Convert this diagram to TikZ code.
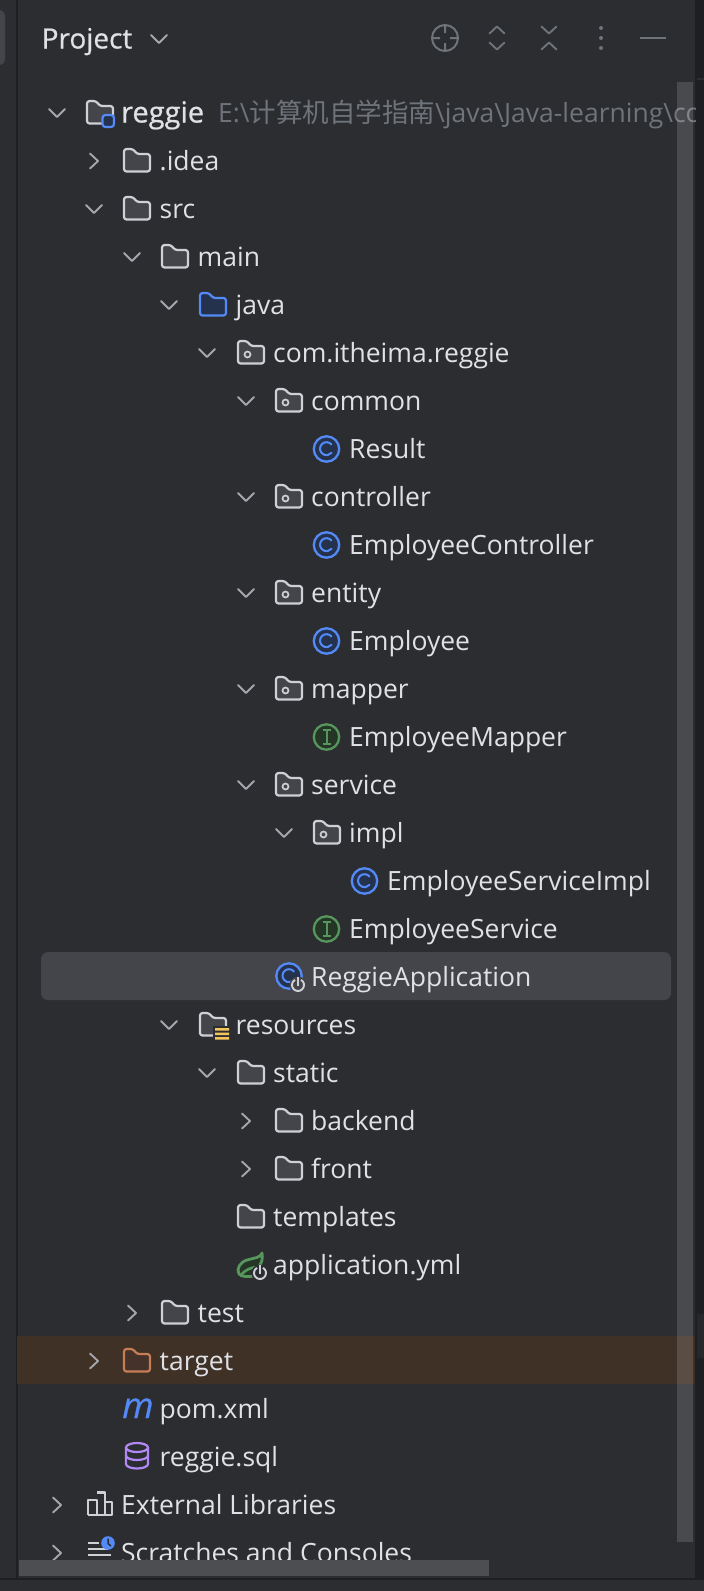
\documentclass[tikz,border=0pt]{standalone}
\usepackage{fontspec}
\setmainfont{Open Sans}
\newfontfamily\cjkf{Noto Sans CJK SC}
\definecolor{bgc}{HTML}{2B2D30}
\definecolor{linec}{HTML}{1E1F22}
\definecolor{txt}{HTML}{DFE1E5}
\definecolor{muted}{HTML}{6F737A}
\definecolor{sel}{HTML}{43454A}
\definecolor{igcol}{HTML}{3F3126}
\definecolor{icog}{HTML}{CED0D6}
\definecolor{foldfill}{HTML}{43454A}
\definecolor{blue}{HTML}{548AF7}
\definecolor{bluef}{HTML}{25324D}
\definecolor{green}{HTML}{57965C}
\definecolor{greenf}{HTML}{253627}
\definecolor{orangec}{HTML}{C77D55}
\definecolor{orangef}{HTML}{45322B}
\definecolor{purp}{HTML}{B189F5}
\definecolor{yel}{HTML}{F2C55C}
\definecolor{sb}{HTML}{4D4E52}
\tikzset{
 lab/.style={anchor=base west,inner sep=0pt,text=txt,font=\fontsize{26.5}{30}\selectfont,yshift=-0.5pt},
 chev/.style={draw=icog!75!bgc,line width=1.9pt,line cap=round,line join=round},
 ic/.style={line width=2.2pt,line join=round},
}
\newcommand{\fold}[4]{\draw[ic,draw=#3,fill=#4,rounded corners=2.5pt] (#1+1,#2+10.5)--(#1+1,#2-12)--(#1+10,#2-12)--(#1+14,#2-7)--(#1+27,#2-7)--(#1+27,#2+10.5)--cycle;}
\newcommand{\pkgdot}[2]{\draw[draw=icog,line width=1.7pt] (#1+10.5,#2+1.5) circle (3pt);}
\newcommand{\chd}[2]{\draw[chev] (#1-8,#2-4)--(#1,#2+4)--(#1+8,#2-4);}
\newcommand{\chr}[2]{\draw[chev] (#1-4,#2-7.5)--(#1+4,#2)--(#1-4,#2+7.5);}
\newcommand{\clsic}[2]{\draw[draw=blue,fill=bluef,line width=2.3pt] (#1+14.5,#2) circle (12.7pt);
 \draw[draw=blue,line width=2pt,line cap=round] (#1+19.5,#2-4.5) arc (40:320:6.5pt);}
\newcommand{\ific}[2]{\draw[draw=green,fill=greenf,line width=2.3pt] (#1+14.5,#2) circle (12.7pt);
 \draw[draw=green,line width=2pt] (#1+10.5,#2-7)--(#1+18.5,#2-7) (#1+10.5,#2+7)--(#1+18.5,#2+7) (#1+14.5,#2-7)--(#1+14.5,#2+7);}
\newcommand{\powic}[3]{\fill[#3] (#1,#2) circle (8.5pt);
 \draw[draw=icog,line width=1.9pt] (#1+3,#2-5.2) arc (60:-240:6pt);
 \draw[draw=icog,line width=1.9pt] (#1,#2-8)--(#1,#2+0.5);}
\begin{document}
\begin{tikzpicture}[x=1pt,y=-1pt]
\useasboundingbox (0,0) rectangle (704,1591);
\fill[bgc] (0,0) rectangle (704,1591);
\fill[linec] (695,0) rectangle (704,1579);
\fill[bgc] (697,78) rectangle (704,80);
\fill[bgc!60!linec] (697,1314) rectangle (704,1358);
\fill[sel,rounded corners=6pt] (-8,10) rectangle (5,65);
\draw[linec,line width=2pt] (16.5,0)--(16.5,1579);
\draw[linec,line width=2pt] (0,1578.5)--(704,1578.5);
\fill[sel,rounded corners=7pt] (41,952) rectangle (671,1000);
\fill[igcol] (17,1336) rectangle (695,1384);
% header
\node[lab,font=\fontsize{28}{30}\selectfont\addfontfeature{FakeBold=0.5}] (hdr) at (41.5,48) {Project};
\draw[chev] (151,35)--(159,43)--(167,35);
\draw[draw=muted,line width=2pt] (445,38) circle (13pt) (445,25)--(445,33) (445,43)--(445,51) (432,38)--(440,38) (450,38)--(458,38);
\draw[chev,draw=muted] (489.5,33.5)--(497,26.5)--(504.5,33.5) (489.5,42.5)--(497,49.5)--(504.5,42.5);
\draw[chev,draw=muted] (541.5,26.5)--(549,33.5)--(556.5,26.5) (541.5,49.5)--(549,42.5)--(556.5,49.5);
\fill[muted] (601,28) circle (2pt) (601,38) circle (2pt) (601,48) circle (2pt);
\draw[draw=muted,line width=2pt] (640,38)--(666,38);
% reggie
\chd{57}{113}
\fold{86}{113}{icog}{foldfill}
\draw[draw=blue,fill=bluef,line width=2.2pt,rounded corners=3pt] (102.5,115) rectangle (114,127);
\node[lab,font=\fontsize{29}{30}\selectfont\addfontfeature{FakeBold=0.7}] (n0) at (121,122) {reggie};
\begin{scope}
\clip (200,90) rectangle (695,135);
\node[lab,text=muted] (n0p) at (218,122) {E:\textbackslash{\cjkf 计算机自学指南}\textbackslash java\textbackslash Java-learning\textbackslash co};
\end{scope}
% folders
\chr{94}{161}\fold{123}{161}{icog}{foldfill}\node[lab] (n1) at (159.5,170) {.idea};
\chd{94}{209}\fold{123}{209}{icog}{foldfill}\node[lab] (n2) at (159.5,218) {src};
\chd{132}{257}\fold{161}{257}{icog}{foldfill}\node[lab] (n3) at (197.5,266) {main};
\chd{169}{305}\fold{199}{305}{blue}{bluef}\node[lab] (n4) at (235.5,314) {java};
\chd{207}{353}\fold{237}{353}{icog}{foldfill}\pkgdot{237}{353}\node[lab] (n5) at (273,362) {com.itheima.reggie};
\chd{246}{401}\fold{275}{401}{icog}{foldfill}\pkgdot{275}{401}\node[lab] (n6) at (311,410) {common};
\clsic{312}{449}\node[lab] (n7) at (349,458) {Result};
\chd{246}{497}\fold{275}{497}{icog}{foldfill}\pkgdot{275}{497}\node[lab] (n8) at (311,506) {controller};
\clsic{312}{545}\node[lab] (n9) at (349,554) {EmployeeController};
\chd{246}{593}\fold{275}{593}{icog}{foldfill}\pkgdot{275}{593}\node[lab] (n10) at (311,602) {entity};
\clsic{312}{641}\node[lab] (n11) at (349,650) {Employee};
\chd{246}{689}\fold{275}{689}{icog}{foldfill}\pkgdot{275}{689}\node[lab] (n12) at (311,698) {mapper};
\ific{312}{737}\node[lab] (n13) at (349,746) {EmployeeMapper};
\chd{246}{785}\fold{275}{785}{icog}{foldfill}\pkgdot{275}{785}\node[lab] (n14) at (311,794) {service};
\chd{284}{833}\fold{313}{833}{icog}{foldfill}\pkgdot{313}{833}\node[lab] (n15) at (349,842) {impl};
\clsic{350}{881}\node[lab] (n16) at (387,890) {EmployeeServiceImpl};
\ific{312}{929}\node[lab] (n17) at (349,938) {EmployeeService};
\clsic{274.5}{976}\powic{298}{985}{sel}\node[lab] (n18) at (311,986) {ReggieApplication};
\chd{169}{1025}\fold{199}{1025}{icog}{foldfill}
\fill[bgc] (213,1026) rectangle (231,1041);
\fill[yel] (215,1028) rectangle (229,1030.5) (215,1032.5) rectangle (229,1035) (215,1037) rectangle (229,1039.5);
\node[lab] (n19) at (235.5,1034) {resources};
\chd{207}{1073}\fold{237}{1073}{icog}{foldfill}\node[lab] (n20) at (273,1082) {static};
\chr{246}{1121}\fold{275}{1121}{icog}{foldfill}\node[lab] (n21) at (311,1130) {backend};
\chr{246}{1169}\fold{275}{1169}{icog}{foldfill}\node[lab] (n22) at (311,1178) {front};
\fold{237}{1217}{icog}{foldfill}\node[lab] (n23) at (273,1226) {templates};
% spring leaf
\draw[draw=green,fill=greenf,line width=2.8pt,line join=round] (262,1253) .. controls (261,1258) and (253,1258) .. (247,1260) .. controls (240,1262) and (236,1269) .. (239,1274) .. controls (241,1277) and (249,1277) .. (254,1276) -- (258,1268) .. controls (262,1263) and (263,1258) .. cycle;
\draw[draw=green,line width=2.6pt] (241,1275) .. controls (245,1270) and (250,1268) .. (256,1267);
\powic{260}{1273}{bgc}
\node[lab] (n24) at (273,1274) {application.yml};
\chr{132}{1313}\fold{161}{1313}{icog}{foldfill}\node[lab] (n25) at (197.5,1322) {test};
\chr{94}{1361}\fold{123}{1361}{orangec}{orangef}\node[lab] (n26) at (159.5,1370) {target};
\node[anchor=base west,inner sep=0pt,text=blue,font=\fontsize{36}{36}\selectfont\itshape\addfontfeature{FakeBold=0.6}] (mic) at (122,1418) {m};
\node[lab] (n27) at (159.5,1418) {pom.xml};
\draw[draw=purp,line width=2.2pt] (137,1447.5) ellipse (11pt and 4.5pt);
\draw[draw=purp,line width=2.2pt] (126,1447.5)--(126,1464) arc (180:360:11pt and 4.5pt)--(148,1447.5);
\draw[draw=purp,line width=2.2pt] (126,1455.5) arc (180:360:11pt and 4.5pt);
\node[lab] (n28) at (159.5,1466) {reggie.sql};
\chr{57}{1505}
\draw[draw=icog,line width=2.2pt,line join=round] (88,1515)--(88,1500)--(97,1500)--(97,1515) (97,1492.5)--(105,1492.5)--(105,1515) (105,1502)--(112,1502)--(112,1515)--(88,1515);
\node[lab] (n29) at (121,1514) {External Libraries};
\chr{57}{1553}
\draw[draw=icog,line width=2pt] (88,1543)--(99,1543) (88,1549)--(108,1549) (88,1555)--(111,1555) (88,1561)--(103,1561);
\fill[blue] (108,1543) circle (6.8pt);
\draw[bgc,line width=1.5pt] (108,1538.5)--(108,1543.5)--(111,1546);
\node[lab] (n30) at (121,1562) {Scratches and Consoles};
% scrollbars
\fill[white,opacity=0.14] (677,82) rectangle (693,1542);
\fill[sb] (19,1560) rectangle (489,1576);
\end{tikzpicture}
\end{document}
